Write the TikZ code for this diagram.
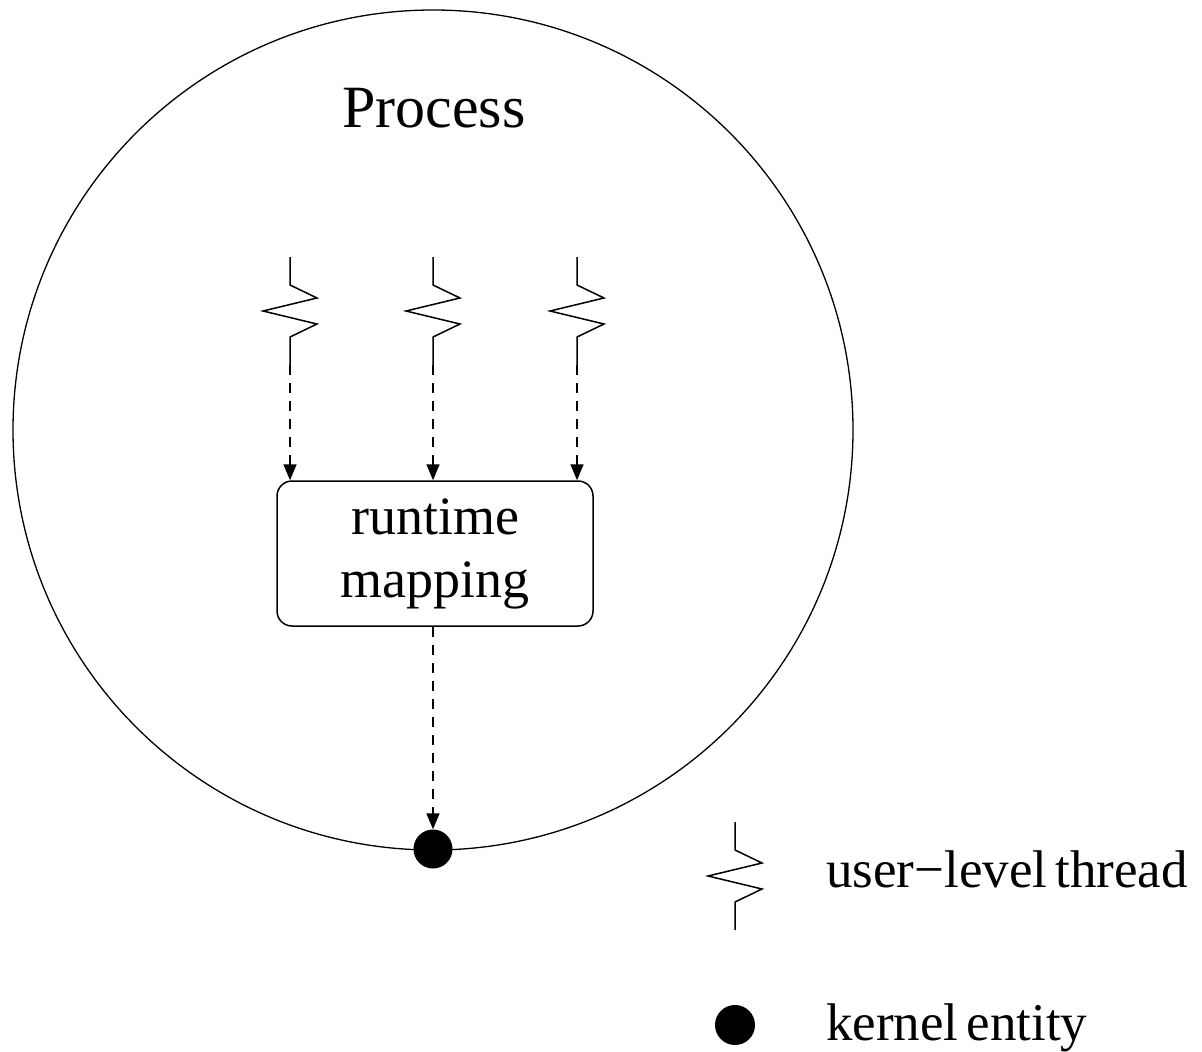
\documentclass[tikz,border=0pt]{standalone}
\usepackage{fontspec}
\setmainfont{Liberation Serif}
\usetikzlibrary{arrows.meta}
\tikzset{
  thread/.pic={
    \draw[line width=1.5pt] (0,0) -- (0,28) -- (27,41) -- (-27,54) -- (27,67) -- (0,80) -- (0,108);
    \coordinate (-end) at (0,108);
  },
  dasharrow/.style={line width=1.6pt, dash pattern=on 10pt off 8pt,
    -{Triangle[length=16pt,width=13pt]}},
  label/.style={font=\fontsize{53}{63}\selectfont, inner sep=0pt, anchor=base west},
}
\begin{document}
\begin{tikzpicture}[x=1pt,y=-1pt]
\useasboundingbox (0,0) rectangle (1202,1052);
% process boundary
\node[circle, draw, line width=1.3pt, minimum size=840pt, inner sep=0pt] (proc) at (433,430) {};
\node[font=\fontsize{60}{70}\selectfont, inner sep=0pt, anchor=base] (ptitle) at (434,127) {Process};
% user-level threads
\pic (t1) at (290,257) {thread};
\pic (t2) at (433,257) {thread};
\pic (t3) at (577,257) {thread};
% runtime mapping box
\node[draw, line width=1.5pt, rounded corners=15pt, minimum width=316pt, minimum height=145pt,
  align=center, font=\fontsize{54}{63}\selectfont] (box) at (435,553.5) {runtime\\mapping};
% kernel entity on the boundary
\node[circle, fill=black, minimum size=39pt, inner sep=0pt] (kern) at (433,849) {};
% mappings
\draw[dasharrow] (t1-end) -- (t1-end |- box.north);
\draw[dasharrow] (t2-end) -- (t2-end |- box.north);
\draw[dasharrow] (t3-end) -- (t3-end |- box.north);
\draw[dasharrow] (box.south -| kern) -- (kern.north);
% legend
\pic (lt) at (735,822) {thread};
\node[label] (ltext) at (826,887) {user−level\hspace{-0.1em} thread};
\node[circle, fill=black, minimum size=40pt, inner sep=0pt] (lk) at (735,1025) {};
\node[label] (ktext) at (826,1040) {kernel\hspace{-0.1em} entity};
\end{tikzpicture}
\end{document}
